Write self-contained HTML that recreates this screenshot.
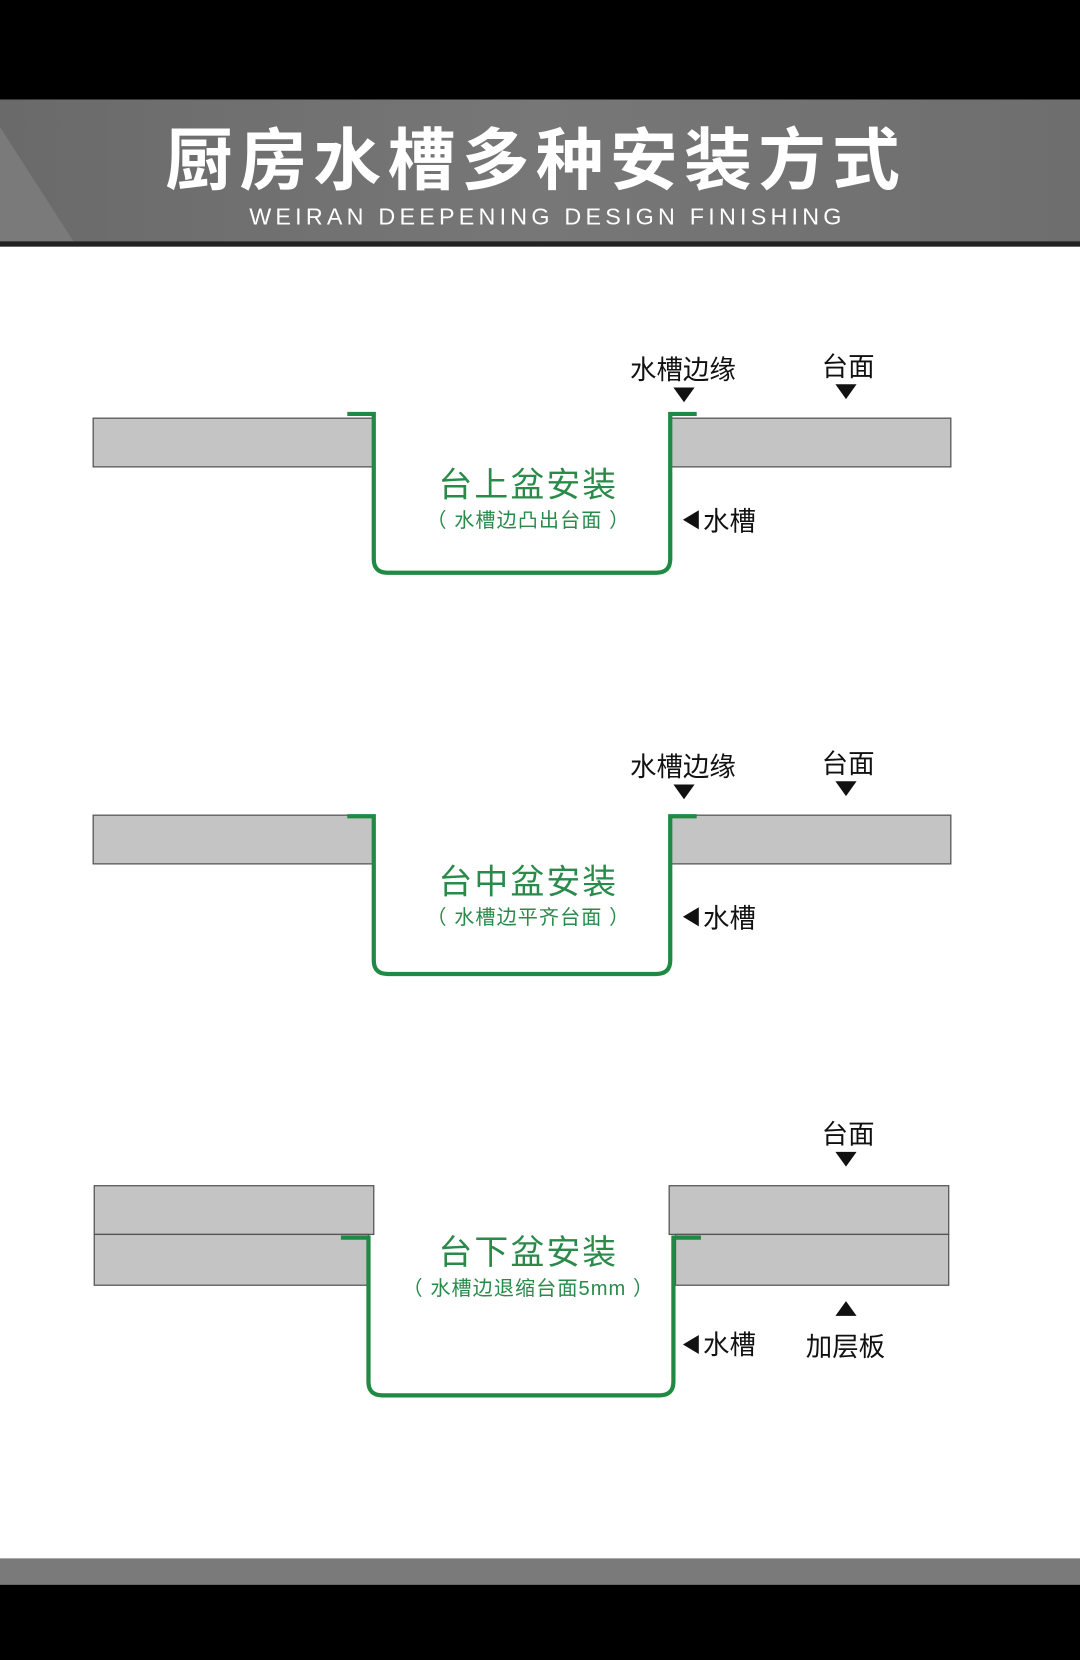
<!DOCTYPE html>
<html><head><meta charset="utf-8"><style>
html,body{margin:0;padding:0;width:1080px;height:1660px;overflow:hidden;background:#fff}
svg{display:block}
text{font-family:"Liberation Sans","Noto Sans CJK SC",sans-serif}
</style></head><body>
<svg width="1080" height="1660" viewBox="0 0 1020 1568" preserveAspectRatio="none">
<defs><linearGradient id="g" x1="0" x2="1"><stop offset="0" stop-color="#6a6a6a"/><stop offset="0.5" stop-color="#777"/><stop offset="1" stop-color="#6e6e6e"/></linearGradient></defs>
<rect x="0" y="0" width="1020" height="94" fill="#000"/>
<rect x="0" y="94" width="1020" height="135" fill="url(#g)"/>
<polygon points="0,120 70,229 0,229" fill="#7a7a7a"/>
<rect x="0" y="228" width="1020" height="5" fill="#222"/>
<text x="506" y="174" text-anchor="middle" font-size="64" font-weight="bold" fill="#fff" letter-spacing="6" font-family="Noto Sans CJK SC,sans-serif">厨房水槽多种安装方式</text>
<text x="517" y="212" text-anchor="middle" font-size="22" fill="#fff" letter-spacing="4">WEIRAN DEEPENING DESIGN FINISHING</text>
<rect x="0" y="1472" width="1020" height="26" fill="#7a7a7a"/>
<rect x="0" y="1497" width="1020" height="71" fill="#000"/>

<g stroke="#555" stroke-width="1.2" fill="#c4c4c4">
<rect x="88" y="395" width="265" height="46"/><rect x="634" y="395" width="264" height="46"/>
<rect x="88" y="770" width="265" height="46"/><rect x="634" y="770" width="264" height="46"/>
<rect x="89" y="1120" width="264" height="46"/><rect x="632" y="1120" width="264" height="46"/>
<rect x="89" y="1166" width="259" height="48"/><rect x="638" y="1166" width="258" height="48"/>
</g>
<g stroke="#1f8a43" stroke-width="4" fill="none">
<path d="M328 391 H353 V528 Q353 541 366 541 H620 Q633 541 633 528 V391 H658"/>
<path d="M328 771 H353 V907 Q353 920 366 920 H620 Q633 920 633 907 V771 H658"/>
<path d="M322 1169 H348 V1305 Q348 1318 361 1318 H623 Q636 1318 636 1305 V1169 H662"/>
</g>
<g fill="#2a8a4a" text-anchor="middle">
<text x="499" y="469" font-size="32" letter-spacing="2">台上盆安装</text>
<text x="499" y="498" font-size="19" letter-spacing="1">（ 水槽边凸出台面 ）</text>
<text x="499" y="844" font-size="32" letter-spacing="2">台中盆安装</text>
<text x="499" y="873" font-size="19" letter-spacing="1">（ 水槽边平齐台面 ）</text>
<text x="499" y="1194" font-size="32" letter-spacing="2">台下盆安装</text>
<text x="499" y="1223" font-size="19" letter-spacing="1">（ 水槽边退缩台面5mm ）</text>
</g>
<g fill="#111" font-size="25">
<text x="595" y="358">水槽边缘</text><text x="776" y="355">台面</text>
<text x="595" y="733">水槽边缘</text><text x="776" y="730">台面</text>
<text x="776" y="1080">台面</text>
<text x="664" y="501">水槽</text><text x="664" y="876">水槽</text><text x="664" y="1279">水槽</text>
<text x="761" y="1281">加层板</text>
<polygon points="636,366 656,366 646,380"/><polygon points="789,363 809,363 799,377"/>
<polygon points="636,741 656,741 646,755"/><polygon points="789,738 809,738 799,752"/>
<polygon points="789,1088 809,1088 799,1102"/>
<polygon points="789,1243 809,1243 799,1229"/>
<polygon points="660,482 660,500 645,491"/><polygon points="660,857 660,875 645,866"/><polygon points="660,1261 660,1279 645,1270"/>
</g>
</svg>
</body></html>
